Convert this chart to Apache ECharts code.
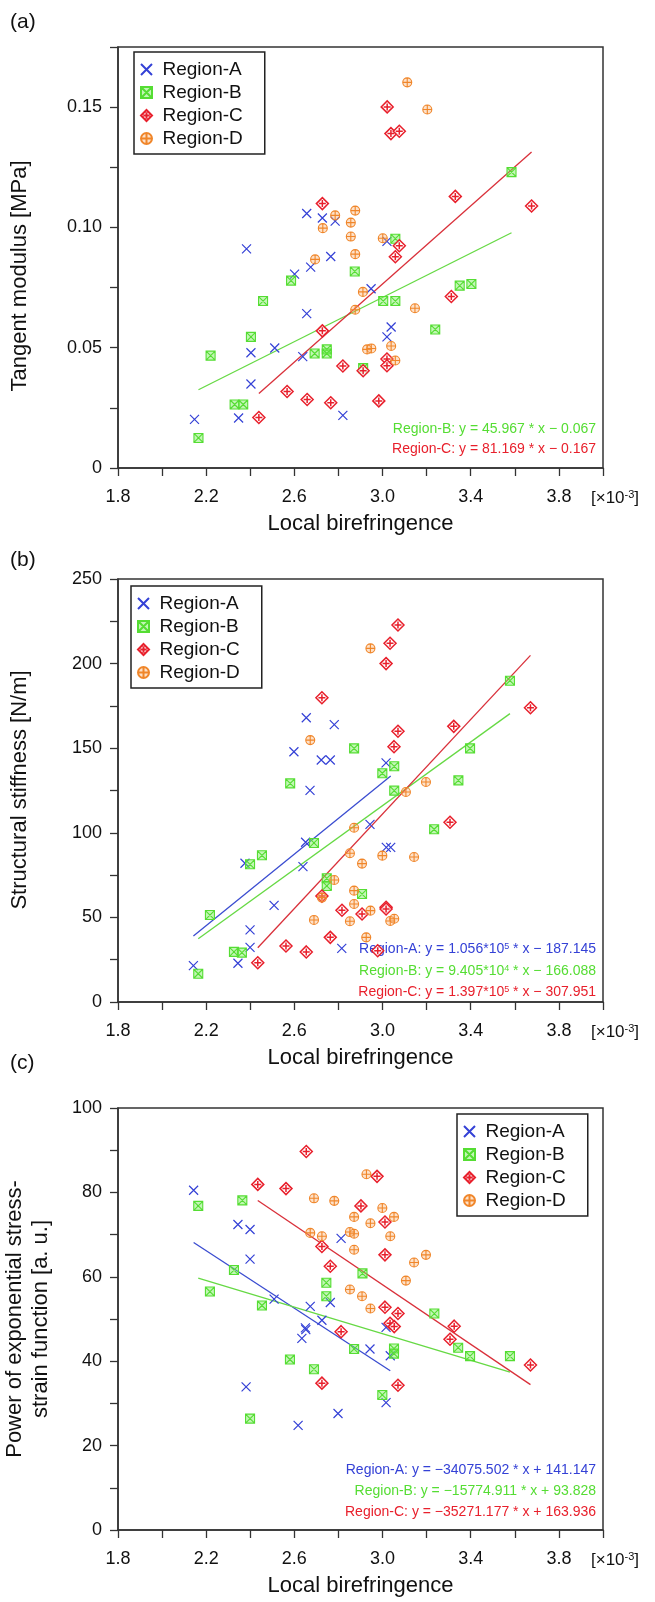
<!DOCTYPE html>
<html>
<head>
<meta charset="utf-8">
<script src="https://cdn.jsdelivr.net/npm/echarts@6/dist/echarts.min.js"></script>
<style>
  html, body { margin: 0; padding: 0; background: #fff; }
  #chart { width: 655px; height: 1602px; }
</style>
</head>
<body>
<div id="chart"></div>
<script>
// ---- data (x in units of 1e-3) ----
const regionNames = ['Region-A', 'Region-B', 'Region-C', 'Region-D'];

// (a) tangent modulus [MPa]
const tangentA = [[2.383,0.0911],[2.656,0.1058],[2.727,0.1039],[2.785,0.1026],[2.765,0.0879],[2.674,0.0835],[2.601,0.0806],[2.656,0.0642],[3.02,0.0942],[2.948,0.0745],[3.039,0.0586],[3.02,0.0545],[2.511,0.0499],[2.403,0.0479],[2.638,0.0463],[2.403,0.0349],[2.82,0.0219],[2.347,0.0208],[2.147,0.0202]];
const tangentB = [[3.585,0.123],[3.058,0.0953],[2.874,0.0817],[2.585,0.0779],[2.458,0.0694],[3.003,0.0694],[3.058,0.0694],[3.35,0.0758],[3.403,0.0765],[3.239,0.0576],[2.403,0.0545],[2.22,0.0467],[2.692,0.0476],[2.747,0.0493],[2.747,0.0476],[2.912,0.0415],[2.329,0.0264],[2.368,0.0264],[2.165,0.0125]];
const tangentC = [[3.021,0.1501],[3.038,0.139],[3.076,0.14],[3.33,0.1129],[3.676,0.1089],[2.727,0.1099],[3.076,0.0924],[3.058,0.0878],[3.312,0.0713],[2.727,0.057],[2.82,0.0424],[2.912,0.0404],[3.02,0.0453],[3.02,0.0425],[2.567,0.0318],[2.658,0.0285],[2.765,0.0271],[2.983,0.0279],[2.439,0.021]];
const tangentD = [[3.112,0.1603],[3.203,0.149],[2.785,0.105],[2.876,0.107],[2.856,0.102],[2.729,0.0997],[2.856,0.0962],[3.001,0.0955],[2.876,0.0889],[2.694,0.0867],[2.911,0.0732],[2.876,0.0658],[3.147,0.0664],[2.93,0.0493],[2.949,0.0497],[3.039,0.0507],[3.058,0.0447]];

// (b) structural stiffness [N/m]
const stiffA = [[2.654,168],[2.781,163.9],[2.598,147.9],[2.722,143],[2.763,143],[2.671,125.1],[3.016,141.3],[2.943,105],[2.651,94.4],[3.017,91.4],[3.037,91.4],[2.376,82],[2.639,80],[2.508,57.1],[2.399,42.6],[2.399,32.3],[2.815,31.7],[2.344,22.9],[2.142,21.5]];
const stiffB = [[3.578,189.9],[2.871,149.9],[3.053,139.3],[2.999,135.2],[3.397,149.9],[3.344,131],[3.053,124.9],[2.581,129.2],[3.234,102.1],[2.689,94],[2.453,86.7],[2.399,81.4],[2.747,73.1],[2.747,68.6],[2.907,63.8],[2.217,51.4],[2.326,29.6],[2.362,29.2],[2.164,16.7]];
const stiffC = [[3.07,222.8],[3.034,212],[3.016,200],[2.725,179.8],[3.671,173.9],[3.323,162.9],[3.07,160],[3.052,150.9],[3.306,106.2],[2.725,62.6],[2.816,54.2],[2.907,52],[3.016,56],[3.016,55],[2.763,38.2],[2.562,33.1],[2.654,29.6],[2.434,23.2],[2.978,30.3]];
const stiffD = [[2.945,209],[2.672,154.8],[3.197,130],[3.106,124.1],[2.871,103],[2.852,87.9],[2.999,86.5],[3.143,85.7],[2.907,81.8],[2.781,72.1],[2.871,65.8],[2.871,57.9],[2.725,61.7],[2.945,54],[2.689,48.5],[2.852,47.7],[3.035,47.9],[3.053,49.2],[2.926,38.2]];

// (c) power of exponential stress-strain function [a. u.]
const powerA = [[2.143,80.5],[2.344,72.4],[2.399,71.2],[2.399,64.2],[2.812,69.1],[2.508,54.7],[2.672,53],[2.763,53.9],[2.725,49.7],[2.65,47.9],[2.652,47.5],[2.634,45.4],[3.016,48],[2.943,42.9],[3.035,41.3],[2.381,33.9],[3.016,30.2],[2.798,27.6],[2.617,24.8]];
const powerB = [[2.164,76.8],[2.364,78.1],[2.326,61.6],[2.217,56.5],[2.453,53.2],[2.745,58.6],[2.745,55.4],[2.909,60.8],[3.235,51.3],[2.871,42.9],[3.052,43],[3.052,41.8],[3.343,43.2],[3.397,41.2],[3.578,41.2],[2.58,40.4],[2.689,38.1],[2.999,32],[2.399,26.4]];
const powerC = [[2.654,89.7],[2.434,81.9],[2.562,80.9],[2.975,83.8],[2.902,76.8],[3.011,73],[3.011,65.2],[2.725,67.2],[2.763,62.5],[3.011,52.8],[3.07,51.3],[3.034,49],[3.053,48.2],[2.812,47],[3.325,48.3],[3.306,45.2],[3.671,39.1],[2.725,34.8],[3.07,34.3]];
const powerD = [[2.927,84.3],[2.689,78.6],[2.781,78],[2.999,76.3],[2.871,74.2],[3.052,74.2],[2.945,72.7],[2.852,70.6],[2.871,70.2],[2.672,70.4],[2.725,69.6],[3.035,69.6],[2.871,66.4],[3.197,65.2],[3.143,63.4],[3.106,59.1],[2.852,57],[2.907,55.4],[2.945,52.5]];

// linear fits printed in the figure: y = slope * x + intercept (x raw)
const fitsTangent = [null, [45.967, -0.067], [81.169, -0.167]];
const fitsStiff = [[1.056e5, -187.145], [9.405e4, -166.088], [1.397e5, -307.951]];
const fitsPower = [[-34075.502, 141.147], [-15774.911, 93.828], [-35271.177, 163.936]];

const eqTangent = [
  null,
  'Region-B: y = 45.967 * x \u2212 0.067',
  'Region-C: y = 81.169 * x \u2212 0.167'
];
const eqStiff = [
  '{t|Region-A: y = 1.056*10}{s|5}{t| * x \u2212 187.145}',
  '{t|Region-B: y = 9.405*10}{s|4}{t| * x \u2212 166.088}',
  '{t|Region-C: y = 1.397*10}{s|5}{t| * x \u2212 307.951}'
];
const eqPower = [
  'Region-A: y = \u221234075.502 * x + 141.147',
  'Region-B: y = \u221215774.911 * x + 93.828',
  'Region-C: y = \u221235271.177 * x + 163.936'
];

const xTickLabels = ['1.8', '2.2', '2.6', '3.0', '3.4', '3.8'];

// ---- styles ----
const FONT = 'Liberation Sans, Arial, sans-serif';
const colors = ['#3441d6', '#55dd33', '#e8202c', '#f0862a'];
const fills = ['rgba(255,255,255,0)', 'rgba(120,235,90,0.45)', 'rgba(255,255,255,0.85)', 'rgba(248,170,100,0.35)'];
const lineColors = ['#3a4cd0', '#66d944', '#d9303a'];
const symbols = [
  'path://M0,0L10,10M10,0L0,10',
  'path://M0,0L10,0L10,10L0,10Z M0,0L10,10 M10,0L0,10',
  'path://M6,0L12,6L6,12L0,6Z M6,2.5L6,9.5 M2.5,6L9.5,6',
  'path://M10,5A5,5 0 1 1 0,5A5,5 0 1 1 10,5Z M5,0L5,10 M0,5L10,5'
];
const symbolSizes = [9, 9, 12, 9];
const strokeWidths = [1.2, 1.1, 1.5, 1.1];

const grids = [
  { left: 118, top: 47, width: 485, height: 421 },
  { left: 118, top: 579, width: 485, height: 423 },
  { left: 118, top: 1108, width: 485, height: 422 }
];

const panels = [
  { data: [tangentA, tangentB, tangentC, tangentD], fits: fitsTangent },
  { data: [stiffA, stiffB, stiffC, stiffD], fits: fitsStiff },
  { data: [powerA, powerB, powerC, powerD], fits: fitsPower }
];

function xFormatter(v) {
  const k = Math.round(v * 10);
  const s = (k / 10).toFixed(1);
  return xTickLabels.indexOf(s) >= 0 ? s : '';
}

const yAxisDefs = [
  { min: 0, max: 0.175, interval: 0.025,
    formatter: v => { const k = Math.round(v * 1000); return (k % 50 === 0) ? (k === 0 ? '0' : (k / 1000).toFixed(2)) : ''; } },
  { min: 0, max: 250, interval: 25, formatter: v => (Math.round(v) % 50 === 0 ? String(Math.round(v)) : '') },
  { min: 0, max: 100, interval: 10, formatter: v => (Math.round(v) % 20 === 0 ? String(Math.round(v)) : '') }
];

const axisLine = { lineStyle: { color: '#333', width: 1.5 } };
const axisTick = { length: 8, lineStyle: { color: '#333', width: 1.3 } };

const xAxes = grids.map((g, i) => ({
  gridIndex: i, type: 'value', min: 1.8, max: 4.0, interval: 0.2,
  axisLine, axisTick,
  axisLabel: { margin: 20, fontSize: 18, color: '#111', fontFamily: FONT, formatter: xFormatter },
  splitLine: { show: false }
}));

const yAxes = yAxisDefs.map((d, i) => ({
  gridIndex: i, type: 'value', min: d.min, max: d.max, interval: d.interval,
  axisLine, axisTick,
  axisLabel: { margin: 16, fontSize: 18, color: '#111', fontFamily: FONT, formatter: d.formatter },
  splitLine: { show: false }
}));

const series = [];
panels.forEach((p, pi) => {
  p.data.forEach((pts, si) => {
    series.push({
      name: regionNames[si], type: 'scatter', xAxisIndex: pi, yAxisIndex: pi,
      data: pts, symbol: symbols[si], symbolSize: symbolSizes[si], symbolKeepAspect: true,
      itemStyle: { color: fills[si], borderColor: colors[si], borderWidth: strokeWidths[si], opacity: 1 },
      emphasis: { disabled: true }, z: 3
    });
  });
  p.fits.forEach((f, fi) => {
    if (!f) return;
    const xs = p.data[fi].map(d => d[0]);
    const x0 = Math.min(...xs), x1 = Math.max(...xs);
    series.push({
      name: regionNames[fi] + ' fit', type: 'line', xAxisIndex: pi, yAxisIndex: pi,
      data: [[x0, f[0] * x0 * 1e-3 + f[1]], [x1, f[0] * x1 * 1e-3 + f[1]]],
      showSymbol: false, silent: true, z: 2,
      lineStyle: { color: lineColors[fi], width: 1.3 }
    });
  });
});

const legendPos = [{ left: 134, top: 52 }, { left: 131, top: 586 }, { left: 457, top: 1114 }];
const legends = legendPos.map(p => ({
  left: p.left, top: p.top, orient: 'vertical', data: regionNames,
  itemWidth: 22, itemHeight: 11, itemGap: 4, padding: [8, 22, 6, 6],
  borderColor: '#222', borderWidth: 1.5, selectedMode: false,
  textStyle: { fontSize: 19, lineHeight: 19, color: '#111', fontFamily: FONT }
}));

// ---- text annotations ----
const graphic = [];
function txt(x, y, text, opts) {
  graphic.push(Object.assign({
    type: 'text', x, y,
    style: Object.assign({ text, fontFamily: FONT, fontSize: 22, fill: '#111', align: 'center', verticalAlign: 'middle' }, opts.style || {})
  }, opts.el || {}));
}
['(a)', '(b)', '(c)'].forEach((t, i) => txt(10, [22, 560, 1063][i], t, { style: { align: 'left', fontSize: 21 } }));
grids.forEach((g, i) => {
  const bottom = g.top + g.height;
  txt(g.left + g.width / 2, bottom + 56, 'Local birefringence', {});
  txt(591, bottom + 30, '[\u00d710{s|-3}]', { style: { align: 'left', fontSize: 17, rich: { s: { fontSize: 11, verticalAlign: 'top', fontFamily: FONT } } } });
});
txt(20, 276, 'Tangent modulus [MPa]', { el: { rotation: Math.PI / 2 } });
txt(20, 790, 'Structural stiffness [N/m]', { el: { rotation: Math.PI / 2 } });
txt(28, 1319, 'Power of exponential stress-\nstrain function [a. u.]', { el: { rotation: Math.PI / 2 }, style: { lineHeight: 26 } });

const eqRich = { t: { fontSize: 14, fontFamily: FONT }, s: { fontSize: 9, verticalAlign: 'top', fontFamily: FONT } };
eqTangent.forEach((e, i) => { if (e) txt(596, [0, 429, 449][i], e, { style: { align: 'right', fontSize: 14, fill: colors[i] } }); });
eqStiff.forEach((e, i) => txt(596, [949, 971, 992][i], e, { style: { align: 'right', fontSize: 14, fill: colors[i], rich: eqRich } }));
eqPower.forEach((e, i) => txt(596, [1470, 1491, 1512][i], e, { style: { align: 'right', fontSize: 14, fill: colors[i] } }));

const chart = echarts.init(document.getElementById('chart'), null, { renderer: 'canvas' });
chart.setOption({
  animation: false,
  backgroundColor: '#fff',
  grid: grids.map(g => Object.assign({ show: true, borderColor: '#333', borderWidth: 1.5, backgroundColor: 'transparent' }, g)),
  xAxis: xAxes,
  yAxis: yAxes,
  legend: legends,
  graphic,
  series
});
</script>
</body>
</html>
